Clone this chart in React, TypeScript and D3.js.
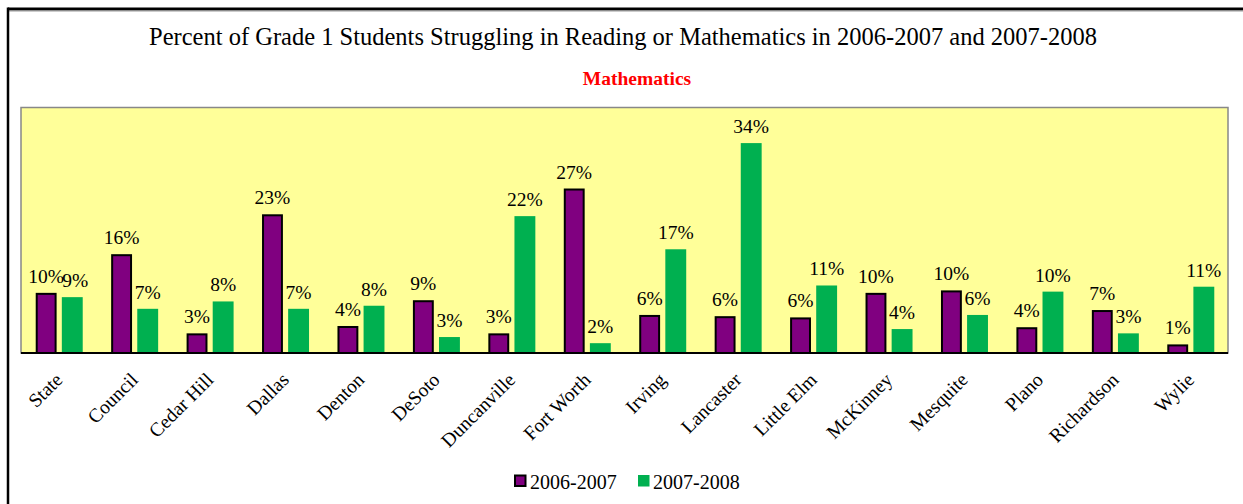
import React from "react";
import * as d3 from "d3";

const categories = ["State","Council","Cedar Hill","Dallas","Denton","DeSoto","Duncanville","Fort Worth","Irving","Lancaster","Little Elm","McKinney","Mesquite","Plano","Richardson","Wylie"];
const series = ["2006-2007","2007-2008"];
const values2006 = [9.8,16.1,3.2,22.6,4.4,8.6,3.2,26.8,6.2,6.0,5.8,9.8,10.2,4.2,7.0,1.4];
const values2007 = [9.1,7.2,8.4,7.2,7.7,2.6,22.3,1.6,16.9,34.2,11.0,3.9,6.2,10.0,3.2,10.8];
const title = "Percent of Grade 1 Students Struggling in Reading or Mathematics in 2006-2007 and 2007-2008";
const subtitle = "Mathematics";

const W = 1243, H = 504;
const plot = { left: 21, right: 1228, top: 107.5, bottom: 353 };
const PURPLE = "#800080", GREEN = "#00B050", YELLOW = "#FFFF99";
const FONT = "'Liberation Serif','Times New Roman',serif";

export default function App() {
  const x = d3.scaleBand<string>().domain(categories).range([plot.left, plot.right]).paddingInner(0).paddingOuter(0);
  const y = d3.scaleLinear().domain([0, 40]).range([plot.bottom, plot.top]);
  const inner = d3.scaleBand<string>().domain(series).range([-23, 24]).paddingInner(0.2);
  const c = (cat: string) => (x(cat) as number) + x.bandwidth() / 2;
  const pct = (v: number) => `${Math.round(v)}%`;
  const bw = inner.bandwidth();

  return (
    <svg width={W} height={H} style={{ position: "absolute", left: 0, top: 0, background: "#fff" }} fontFamily={FONT}>
      {/* outer frame */}
      <line x1={8} y1={9} x2={W + 5} y2={9} stroke="#000" strokeWidth={3} />
      <line x1={9} y1={11} x2={W + 5} y2={11} stroke="#999" strokeWidth={1} />
      <line x1={8} y1={7.5} x2={8} y2={H + 5} stroke="#000" strokeWidth={2.5} />

      <text x={623} y={45} textAnchor="middle" fontSize={24.5} fill="#000">{title}</text>
      <text x={637} y={85} textAnchor="middle" fontSize={19.5} fontWeight="bold" fill="#FF0000">{subtitle}</text>

      {/* plot area */}
      <rect x={plot.left} y={plot.top} width={plot.right - plot.left} height={plot.bottom - plot.top} fill={YELLOW} stroke="#888" strokeWidth={1.5} />

      {categories.map((cat, i) => {
        const cx = c(cat);
        const xa = cx + (inner(series[0]) as number);
        const xb = cx + (inner(series[1]) as number);
        const va = values2006[i], vb = values2007[i];
        return (
          <g key={cat}>
            <rect x={xa + 1} y={y(va) + 1} width={bw - 2} height={plot.bottom - y(va) - 1} fill={PURPLE} stroke="#000" strokeWidth={2} />
            <rect x={xb} y={y(vb)} width={bw} height={plot.bottom - y(vb)} fill={GREEN} />
            <text x={xa + bw / 2} y={y(va) - 10} textAnchor="middle" fontSize={19.5} fill="#000">{pct(va)}</text>
            <text x={xb + bw / 2 + (i === 0 ? 3 : 0)} y={y(vb) - 10} textAnchor="middle" fontSize={19.5} fill="#000">{pct(vb)}</text>
            <text transform={`translate(${cx + 5},${381}) rotate(-45)`} textAnchor="end" fontSize={19.5} fill="#000">{cat}</text>
          </g>
        );
      })}

      <line x1={plot.left} x2={plot.right} y1={plot.bottom} y2={plot.bottom} stroke="#000" strokeWidth={2} />

      {/* legend */}
      <rect x={515} y={475.5} width={10.5} height={10.5} fill={PURPLE} stroke="#000" strokeWidth={2} />
      <text x={530} y={488.5} fontSize={20} fill="#000">{series[0]}</text>
      <rect x={638} y={475} width={11.5} height={11.5} fill={GREEN} />
      <text x={653} y={488.5} fontSize={20} fill="#000">{series[1]}</text>
    </svg>
  );
}
